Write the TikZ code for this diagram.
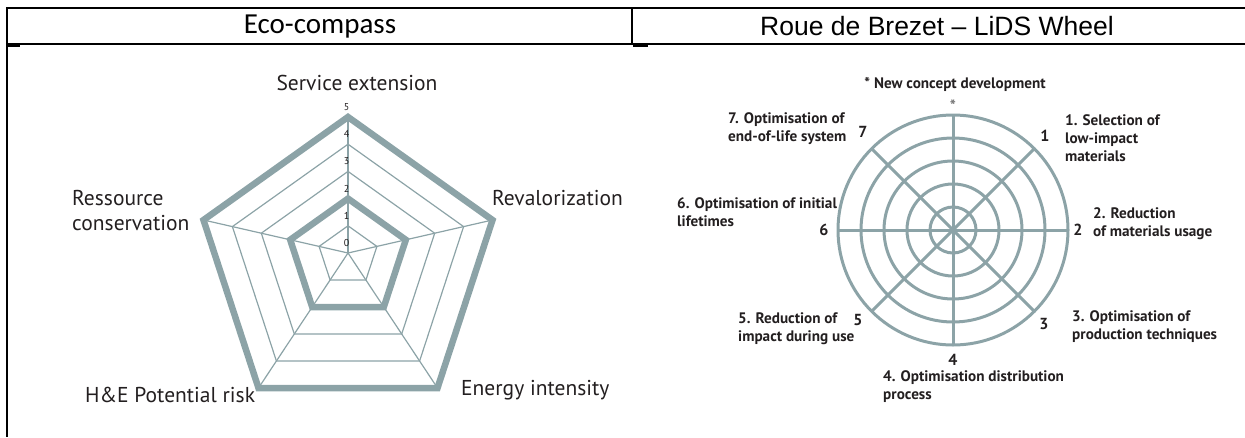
\documentclass[tikz,border=0pt]{standalone}
\usepackage{fontspec}
\setmainfont{PT Sans}
\newfontfamily\headfont{Carlito}
\newfontfamily\arialfont{Liberation Sans}
\definecolor{spider}{HTML}{8CA3A7}
\definecolor{ink}{HTML}{231F20}
\tikzset{
  frame line/.style={line width=2pt,black},
  grid line/.style={draw=spider,line width=1.2pt},
  thick ring/.style={draw=spider,line width=6.5pt,line join=miter},
  wheel line/.style={draw=spider,line width=3pt},
  axis label/.style={font=\fontsize{21.5}{25}\selectfont,text=ink,inner sep=0pt,align=left},
  level num/.style={font=\fontsize{10}{11}\selectfont,text=ink,inner sep=0pt},
  wheel num/.style={font=\bfseries\fontsize{16}{18}\selectfont,text=ink,inner sep=0pt},
  wheel label/.style={font=\bfseries\fontsize{15.2}{18}\selectfont,text=ink,inner sep=0pt,align=left},
}
\begin{document}
\begin{tikzpicture}[x=1pt,y=-1pt]
  \useasboundingbox (0,0) rectangle (1245,437);
  % table frame
  \draw[frame line] (1245,8) -- (7,8) -- (7,437);
  \draw[frame line] (7,44) -- (1245,44);
  \draw[frame line] (632,8) -- (632,44);
  \draw[line width=1.5pt] (8,46) -- (20,46);
  \draw[line width=1.5pt] (633,46) -- (648,46);
  \node[font=\headfont\fontsize{29}{30}\selectfont] (ecotitle) at (320,27) {Eco-compass};
  \node[font=\arialfont\fontsize{26.5}{28}\selectfont] (lidstitle) at (937,26) {Roue de Brezet – LiDS Wheel};

  % eco-compass
  \begin{scope}[shift={(348,253)}]
    \foreach \k in {1,...,5}
      \draw[grid line] (0,-27.2*\k) -- (28.9*\k,-6.6*\k) -- (17.9*\k,27*\k)
        -- (-17.9*\k,27*\k) -- (-28.9*\k,-6.6*\k) -- cycle;
    \foreach \p in {(0,-136),(144.5,-33),(89.5,135),(-89.5,135),(-144.5,-33)}
      \draw[grid line] (0,0) -- \p;
    \foreach \k in {2,5}
      \draw[thick ring] (0,-27.2*\k) -- (28.9*\k,-6.6*\k) -- (17.9*\k,27*\k)
        -- (-17.9*\k,27*\k) -- (-28.9*\k,-6.6*\k) -- cycle;
    \foreach \k in {0,...,5}
      \node[level num] (lev\k) at (-1.5,-27.2*\k-10) {\k};
  \end{scope}
  \node[axis label] (service) at (357,83) {Service extension};
  \node[axis label,anchor=west] (reval) at (492,198) {Revalorization};
  \node[axis label,anchor=west] (ressource) at (72,211) {Ressource\\conservation};
  \node[axis label,anchor=west] (hrisk) at (85,395) {H\&E Potential risk};
  \node[axis label,anchor=west] (energy) at (461,390) {Energy intensity};

  % LiDS wheel
  \begin{scope}[shift={(953,230)}]
    \foreach \r in {23,46,69,92,115}
      \draw[wheel line] (0,0) circle (\r);
    \foreach \a in {0,45,90,135}
      \draw[wheel line] (\a:115) -- (\a+180:115);
  \end{scope}
  \node[font=\bfseries\fontsize{16}{16}\selectfont,text=black!55,inner sep=0pt] (star) at (953,106) {*};
  \node[wheel num] (w1) at (1045,136) {1};
  \node[wheel num] (w2) at (1078,230) {2};
  \node[wheel num] (w3) at (1044,324) {3};
  \node[wheel num] (w4) at (953,360) {4};
  \node[wheel num] (w5) at (858,320) {5};
  \node[wheel num] (w6) at (824,230) {6};
  \node[wheel num] (w7) at (863,132) {7};
  \node[wheel label] (newconcept) at (955,84) {* New concept development};
  \node[wheel label,anchor=west] (l1) at (1065,138) {1. Selection of\\low-impact\\materials};
  \node[wheel label,anchor=west] (l2) at (1093,224) {2. Reduction\\of materials usage};
  \node[wheel label,anchor=west] (l3) at (1072,327) {3. Optimisation of\\production techniques};
  \node[wheel label,anchor=west] (l4) at (883,387) {4. Optimisation distribution\\process};
  \node[wheel label,anchor=west] (l5) at (738,329) {5. Reduction of\\impact during use};
  \node[wheel label,anchor=west] (l6) at (677,212) {6. Optimisation of initial\\lifetimes};
  \node[wheel label,anchor=west] (l7) at (728,129) {7. Optimisation of\\end-of-life system};
\end{tikzpicture}
\end{document}
